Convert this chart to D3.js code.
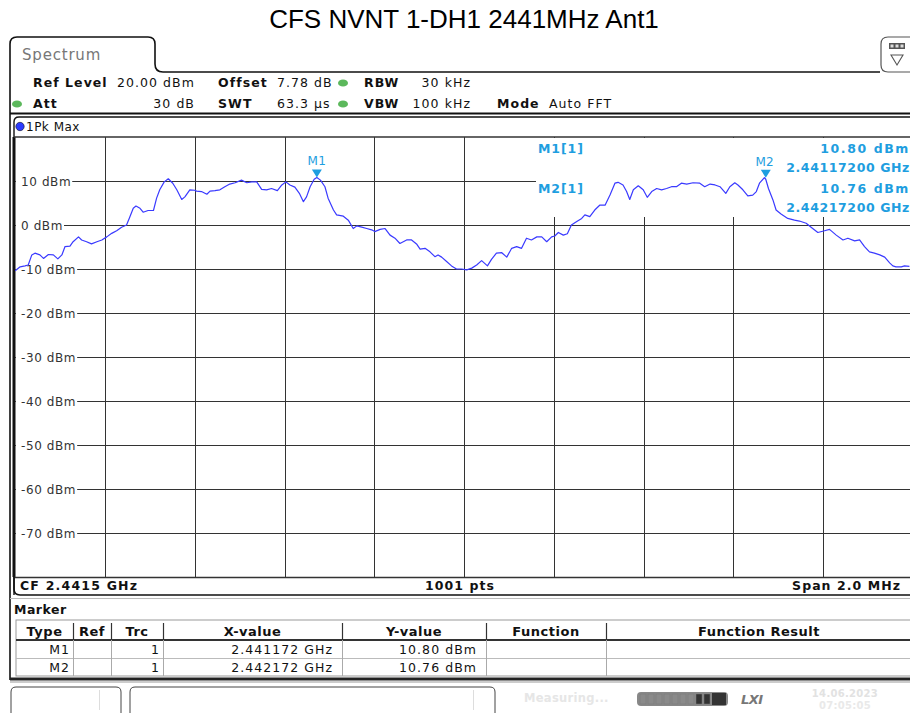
<!DOCTYPE html>
<html><head><meta charset="utf-8">
<script src="https://cdn.jsdelivr.net/npm/d3@7"></script>
<style>
html,body{margin:0;padding:0;background:#fff;}
svg{display:block;}
.ins{font-family:"DejaVu Sans",Verdana,sans-serif;}
</style></head>
<body>
<script>
// ---------- DATA ----------
const title = "CFS NVNT 1-DH1 2441MHz Ant1";
const freqMHz = [2440.500,2440.511,2440.522,2440.529,2440.537,2440.544,2440.555,2440.563,2440.574,2440.585,2440.595,2440.604,2440.611,2440.622,2440.629,2440.641,2440.648,2440.659,2440.670,2440.682,2440.693,2440.704,2440.715,2440.726,2440.737,2440.748,2440.754,2440.763,2440.769,2440.778,2440.785,2440.796,2440.808,2440.815,2440.822,2440.832,2440.841,2440.851,2440.860,2440.871,2440.878,2440.889,2440.900,2440.904,2440.915,2440.927,2440.934,2440.945,2440.956,2440.967,2440.978,2440.990,2441.004,2441.016,2441.027,2441.038,2441.049,2441.060,2441.071,2441.084,2441.094,2441.103,2441.112,2441.123,2441.133,2441.142,2441.149,2441.157,2441.166,2441.172,2441.180,2441.190,2441.197,2441.209,2441.216,2441.231,2441.242,2441.253,2441.261,2441.272,2441.283,2441.294,2441.301,2441.313,2441.324,2441.335,2441.346,2441.357,2441.372,2441.383,2441.394,2441.402,2441.413,2441.424,2441.435,2441.442,2441.450,2441.461,2441.472,2441.483,2441.494,2441.506,2441.517,2441.528,2441.539,2441.552,2441.561,2441.572,2441.584,2441.595,2441.606,2441.617,2441.628,2441.639,2441.650,2441.662,2441.673,2441.684,2441.695,2441.702,2441.710,2441.721,2441.730,2441.739,2441.751,2441.762,2441.769,2441.780,2441.791,2441.802,2441.814,2441.825,2441.836,2441.843,2441.854,2441.862,2441.869,2441.877,2441.888,2441.899,2441.908,2441.918,2441.929,2441.940,2441.951,2441.962,2441.973,2441.984,2441.996,2442.010,2442.025,2442.036,2442.048,2442.059,2442.070,2442.083,2442.092,2442.103,2442.110,2442.121,2442.132,2442.143,2442.151,2442.158,2442.169,2442.172,2442.178,2442.188,2442.195,2442.206,2442.221,2442.236,2442.247,2442.262,2442.273,2442.288,2442.303,2442.314,2442.329,2442.344,2442.355,2442.370,2442.381,2442.392,2442.403,2442.414,2442.426,2442.437,2442.448,2442.455,2442.462,2442.474,2442.481,2442.492,2442.500];
const levelDbm = [-10.4,-9.5,-9.3,-9.1,-6.8,-6.4,-6.8,-7.6,-6.7,-6.8,-7.7,-6.8,-4.9,-4.8,-3.8,-2.7,-3.4,-3.8,-4.3,-3.8,-3.4,-2.7,-1.9,-1.3,-0.5,0.0,1.5,3.8,4.3,3.8,2.9,3.3,3.3,6.1,8.0,9.8,10.5,9.5,8.0,5.8,6.4,8.0,7.9,7.7,7.6,7.0,7.7,7.8,8.0,8.7,9.3,9.6,10.2,9.6,9.8,9.8,8.1,8.0,8.3,7.8,9.1,9.8,9.1,8.6,7.2,5.3,6.4,8.7,10.4,10.8,10.2,8.7,6.1,3.4,2.3,2.0,1.1,-0.8,-0.2,-0.5,-0.8,-1.1,-1.5,-1.0,-0.8,-2.3,-3.0,-4.2,-3.4,-3.4,-4.3,-5.5,-5.3,-6.1,-7.2,-6.8,-7.3,-8.3,-9.3,-10.0,-10.0,-10.2,-9.8,-9.1,-8.1,-9.3,-7.8,-6.4,-6.3,-7.3,-5.3,-4.9,-5.3,-3.0,-3.4,-2.7,-2.7,-3.8,-2.7,-2.5,-1.7,-2.3,-2.0,0.0,0.8,1.5,2.3,1.9,3.4,4.5,4.5,6.8,9.5,9.7,9.1,7.6,5.8,8.0,8.9,8.0,6.3,7.6,8.3,8.0,8.3,8.7,8.7,9.5,9.3,9.6,9.5,8.7,9.3,9.1,8.7,7.2,8.7,9.6,9.1,8.0,6.6,6.8,7.6,9.5,10.76,10.4,8.3,5.7,3.4,2.5,1.5,1.1,0.9,0.4,-0.5,-1.7,-1.3,-1.0,-2.3,-3.4,-3.0,-3.6,-3.4,-4.9,-6.1,-6.4,-6.8,-7.3,-8.6,-9.3,-9.5,-9.5,-9.3,-9.4];
const yTickValues = [20,10,0,-10,-20,-30,-40,-50,-60,-70,-80];
const yTickLabels = ["10 dBm","0 dBm","-10 dBm","-20 dBm","-30 dBm","-40 dBm","-50 dBm","-60 dBm","-70 dBm"];
const yLabelValues = [10,0,-10,-20,-30,-40,-50,-60,-70];
const xDivisions = [0,1,2,3,4,5,6,7,8,9,10];
const markerNames = ["M1","M2"];
const markerFreqMHz = [2441.172,2442.172];
const markerLevel = [10.80,10.76];
const markerTrc = ["1","1"];
const markerXText = ["2.441172 GHz","2.442172 GHz"];
const markerYText = ["10.80 dBm","10.76 dBm"];
const markerInfoFreq = ["2.44117200 GHz","2.44217200 GHz"];
const tableHeaders = ["Type","Ref","Trc","X-value","Y-value","Function","Function Result"];

// ---------- LAYOUT ----------
const W = 910, H = 713;
const svg = d3.select("body").append("svg").attr("width",W).attr("height",H);
const ins = svg.append("g").attr("class","ins");

const x = d3.scaleLinear().domain([2440.5,2442.5]).range([15.2,913]);
const y = d3.scaleLinear().domain([-80,20]).range([577,137]);
const xDiv = d3.scaleLinear().domain([0,10]).range([15.2,913]);

const TRACE = "#3a3aff", MK = "#1e9ee0", GRID = "#333";

// title
svg.append("text").attr("x",464).attr("y",28).attr("text-anchor","middle")
  .attr("font-family","Liberation Sans, Arial, sans-serif").attr("font-size",26).attr("fill","#000").text(title);

// Spectrum tab + top frame
ins.append("path").attr("d","M10,680 L10,44 Q10,37 17,37 L148,37 Q155,37 155,44 L155,64 Q155,72 163,72 L880,72")
  .attr("fill","none").attr("stroke","#111").attr("stroke-width",1.6);
ins.append("text").attr("x",22).attr("y",60).attr("font-size",15).attr("fill","#777").attr("letter-spacing",0.8).text("Spectrum");
// right icon
ins.append("path").attr("d","M910,72 L888,72 Q881,72 881,65 L881,44 Q881,37 888,37 L910,37").attr("fill","#fff").attr("stroke","#555").attr("stroke-width",1.2);
ins.append("rect").attr("x",889).attr("y",43).attr("width",16).attr("height",6).attr("fill","#555");
[892,897,902].forEach(v=>ins.append("rect").attr("x",v-1.5).attr("y",44.5).attr("width",3).attr("height",3).attr("fill","#ddd"));
ins.append("path").attr("d","M891,55 L903,55 L897,65 Z").attr("fill","none").attr("stroke","#555").attr("stroke-width",1.1);

// header rows
function t(xp,yp,s,opt={}){
  const e = ins.append("text").attr("x",xp).attr("y",yp).attr("font-size",opt.size||12.5)
    .attr("fill",opt.fill||"#111").attr("letter-spacing",opt.ls!==undefined?opt.ls:1.05).text(s);
  if(opt.bold) e.attr("font-weight","bold");
  if(opt.anchor) e.attr("text-anchor",opt.anchor);
  return e;
}
function dot(cx,cy,col){ ins.append("ellipse").attr("cx",cx).attr("cy",cy).attr("rx",5).attr("ry",3.6).attr("fill",col); }
t(33,87,"Ref Level",{bold:true}); t(117,87,"20.00 dBm");
t(218,87,"Offset",{bold:true}); t(277,87,"7.78 dB");
dot(343,83,"#5cb85c"); t(364,87,"RBW",{bold:true}); t(471,87,"30 kHz",{anchor:"end"});
dot(17,104,"#5cb85c"); t(33,108,"Att",{bold:true}); t(195,108,"30 dB",{anchor:"end"});
t(218,108,"SWT",{bold:true}); t(277,108,"63.3 µs");
dot(343,104,"#5cb85c"); t(364,108,"VBW",{bold:true}); t(471,108,"100 kHz",{anchor:"end"});
t(497,108,"Mode",{bold:true}); t(549,108,"Auto FFT");
ins.append("line").attr("x1",10).attr("x2",910).attr("y1",113.5).attr("y2",113.5).attr("stroke","#111").attr("stroke-width",2);

// trace window frame
ins.append("path").attr("d","M14,595 L14,122 Q14,117 19,117 L910,117").attr("fill","none").attr("stroke","#111").attr("stroke-width",1.4);
ins.append("line").attr("x1",14).attr("x2",14).attr("y1",137).attr("y2",577).attr("stroke","#111").attr("stroke-width",3);
ins.append("circle").attr("cx",20).attr("cy",126.5).attr("r",4.2).attr("fill","#2b3bff").attr("stroke","#112").attr("stroke-width",0.6);
t(26,131,"1Pk Max",{ls:0.5,size:12});
ins.append("line").attr("x1",14).attr("x2",910).attr("y1",137).attr("y2",137).attr("stroke",GRID).attr("stroke-width",1.3);

// grid
const grid = ins.append("g");
grid.selectAll("line.h").data(yTickValues.slice(1,-1)).join("line")
  .attr("x1",15).attr("x2",913).attr("y1",d=>Math.round(y(d))+0.5).attr("y2",d=>Math.round(y(d))+0.5)
  .attr("stroke",GRID).attr("stroke-width",1);
grid.selectAll("line.v").data(xDivisions.slice(1,-1)).join("line")
  .attr("x1",d=>Math.round(xDiv(d))+0.5).attr("x2",d=>Math.round(xDiv(d))+0.5)
  .attr("y1",137).attr("y2",577).attr("stroke",GRID).attr("stroke-width",1);
ins.append("line").attr("x1",14).attr("x2",910).attr("y1",577.5).attr("y2",577.5).attr("stroke",GRID).attr("stroke-width",1.3);

// y labels with white background
const lab = ins.append("g");
yLabelValues.forEach((v,i)=>{
  const tx = lab.append("text").attr("x",21).attr("y",y(v)+4.5).attr("font-size",12).attr("fill","#333").attr("letter-spacing",0.6).text(yTickLabels[i]);
  const bb = tx.node().getBBox();
  lab.insert("rect","text").attr("x",16).attr("y",bb.y).attr("width",bb.x+bb.width-16+1).attr("height",bb.height).attr("fill","#fff");
});

// marker info mask
ins.append("rect").attr("x",536).attr("y",138).attr("width",380).attr("height",79).attr("fill","#fff");

// trace
const line = d3.line().x((d,i)=>x(freqMHz[i])).y(d=>y(d));
svg.append("path").datum(levelDbm).attr("d",line).attr("fill","none").attr("stroke",TRACE).attr("stroke-width",1.2).attr("stroke-linejoin","round");

// markers
markerNames.forEach((m,i)=>{
  const mx = x(markerFreqMHz[i]), my = y(markerLevel[i]);
  svg.append("path").attr("d",`M${mx-5},${my-8} L${mx+5},${my-8} L${mx},${my} Z`).attr("fill",MK);
  ins.append("text").attr("x",i===0?mx:mx-1).attr("y",my-12).attr("text-anchor","middle").attr("font-size",12).attr("fill",MK).attr("letter-spacing",0.3).text(m);
});
// marker info text
markerNames.forEach((m,i)=>{
  const by = 153 + i*40;
  t(538,by,m+"[1]",{bold:true,fill:MK,ls:0.9});
  t(910,by,markerYText[i],{bold:true,fill:MK,anchor:"end",ls:1.6});
  t(910,by+19,markerInfoFreq[i],{bold:true,fill:MK,anchor:"end",ls:0.6});
});

// bottom info row
ins.append("path").attr("d","M14,577 L14,589 Q14,595 20,595 L910,595").attr("fill","none").attr("stroke","#111").attr("stroke-width",1.6);
t(20,590,"CF 2.4415 GHz",{bold:true,ls:1.2});
t(460,590,"1001 pts",{bold:true,anchor:"middle"});
t(901,590,"Span 2.0 MHz",{bold:true,anchor:"end"});

// marker table
ins.append("line").attr("x1",10).attr("x2",910).attr("y1",598.5).attr("y2",598.5).attr("stroke","#bbb").attr("stroke-width",1);
t(14,614,"Marker",{bold:true,ls:0.5});
const colEdges = [16,73,111,163,342,486,606,912];
const tb = ins.append("g");
tb.append("rect").attr("x",16).attr("y",620).attr("width",900).attr("height",56).attr("fill","#fff").attr("stroke","#999");
tb.append("line").attr("x1",16).attr("x2",912).attr("y1",640).attr("y2",640).attr("stroke","#333").attr("stroke-width",2);
tb.append("line").attr("x1",16).attr("x2",912).attr("y1",658.5).attr("y2",658.5).attr("stroke","#bbb").attr("stroke-width",1);
colEdges.slice(1,-1).forEach(cx=>{
  tb.append("line").attr("x1",cx+0.5).attr("x2",cx+0.5).attr("y1",623).attr("y2",640).attr("stroke","#333").attr("stroke-width",1.2);
  tb.append("line").attr("x1",cx+0.5).attr("x2",cx+0.5).attr("y1",640).attr("y2",676).attr("stroke","#aaa").attr("stroke-width",1);
});
tableHeaders.forEach((h,i)=>{
  t((colEdges[i]+colEdges[i+1])/2,636,h,{bold:true,anchor:"middle",size:13,ls:0.5});
});
markerNames.forEach((m,i)=>{
  const ry = 654 + i*18;
  t(70,ry,m,{anchor:"end"});
  t(160,ry,markerTrc[i],{anchor:"end"});
  t(333,ry,markerXText[i],{anchor:"end"});
  t(477,ry,markerYText[i],{anchor:"end"});
});
ins.append("line").attr("x1",10).attr("x2",910).attr("y1",679).attr("y2",679).attr("stroke","#222").attr("stroke-width",3);
ins.append("line").attr("x1",10).attr("x2",910).attr("y1",682).attr("y2",682).attr("stroke","#ccc").attr("stroke-width",2);

// status bar
ins.append("path").attr("d","M11,713 L11,692 Q11,687 16,687 L116,687 Q121,687 121,692 L121,713").attr("fill","#fff").attr("stroke","#444").attr("stroke-width",1);
ins.append("line").attr("x1",99.5).attr("x2",99.5).attr("y1",690).attr("y2",710).attr("stroke","#ddd");
ins.append("path").attr("d","M130,713 L130,692 Q130,687 135,687 L490,687 Q495,687 495,692 L495,713").attr("fill","#fff").attr("stroke","#444").attr("stroke-width",1);
ins.append("line").attr("x1",473.5).attr("x2",473.5).attr("y1",690).attr("y2",710).attr("stroke","#ddd");
t(524,702,"Measuring...",{bold:true,fill:"#e6e6e6",size:11.5,ls:0.3});
const pb = ins.append("g");
pb.append("rect").attr("x",637).attr("y",692).attr("width",91).attr("height",14).attr("rx",4).attr("fill","#888");
d3.range(9).forEach(k=>pb.append("rect").attr("x",640+k*8).attr("y",694).attr("width",6).attr("height",10).attr("fill",k<7?"#8a8a8a":"#333").attr("stroke","#777").attr("stroke-width",0.5));
pb.append("rect").attr("x",712).attr("y",693).attr("width",14).attr("height",12).attr("fill","#333");
t(741,704,"LXI",{bold:true,fill:"#777",size:13,ls:-0.5}).attr("font-style","italic");
t(845,697,"14.06.2023",{bold:true,fill:"#e2e2e2",size:10,anchor:"middle",ls:0.3});
t(845,709,"07:05:05",{bold:true,fill:"#e9e9e9",size:10,anchor:"middle",ls:0.3});
</script>
</body></html>
